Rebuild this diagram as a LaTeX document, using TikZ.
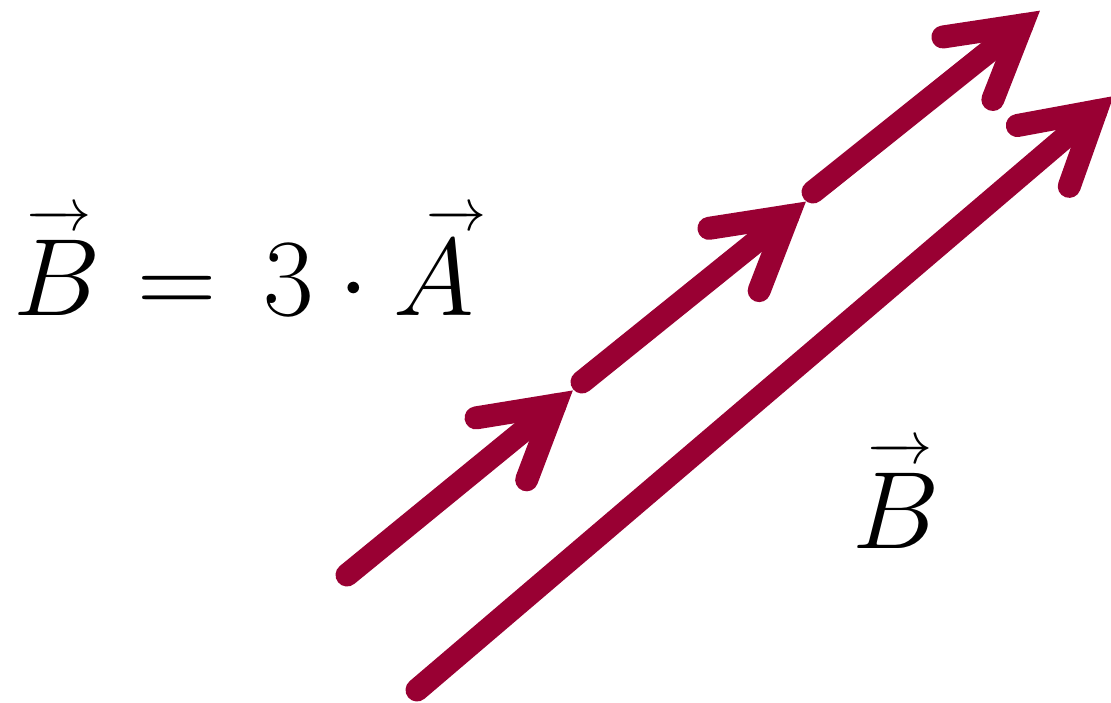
\RequirePackage{fix-cm}
\documentclass[tikz,border=0pt]{standalone}
\usetikzlibrary{calc}
\definecolor{vecred}{RGB}{153,0,51}
% letter with an arrow above it: #1 letter, #2 shift of the arrow, #3 arrow length
\newcommand\myvecarrow[3]{\mathord{\setbox0\hbox{$#1$}%
  \rlap{\kern#2\raise85pt\hbox to #3{\fontsize{60}{60}\selectfont\rightarrowfill}}\box0}}
\begin{document}
\begin{tikzpicture}[x=1pt,y=-1pt,
  vecline/.style={draw=vecred,line width=23pt,line cap=round,line join=miter},
  mathlabel/.style={inner sep=0pt,anchor=base west,font=\fontsize{110}{120}\selectfont}]
\useasboundingbox (0,0) rectangle (1111,702);
% points
\coordinate (s1) at (347,575);
\coordinate (t1) at (555,405);
\coordinate (s2) at (582,382);
\coordinate (t2) at (788,216);
\coordinate (s3) at (813,192);
\coordinate (t3) at (1022,25);
\coordinate (sb) at (417,690);
\coordinate (tb) at (1096,111);
% arrows
\foreach \s/\t in {s1/t1,s2/t2,s3/t3,sb/tb}{
  \draw[vecline] (\s) -- (\t);
  \draw[vecline] ($(\t)!80pt!30:(\s)$) -- (\t) -- ($(\t)!80pt!-30:(\s)$);
}
% labels
\node[mathlabel] (eq) at (13,315) {$\myvecarrow{B}{12pt}{66pt}\mkern1mu = \mkern2.7mu 3\cdot\myvecarrow{A}{33pt}{44pt}$};
\node[mathlabel] (lb) at (852,548) {$\myvecarrow{B}{14pt}{66pt}$};
\end{tikzpicture}
\end{document}
